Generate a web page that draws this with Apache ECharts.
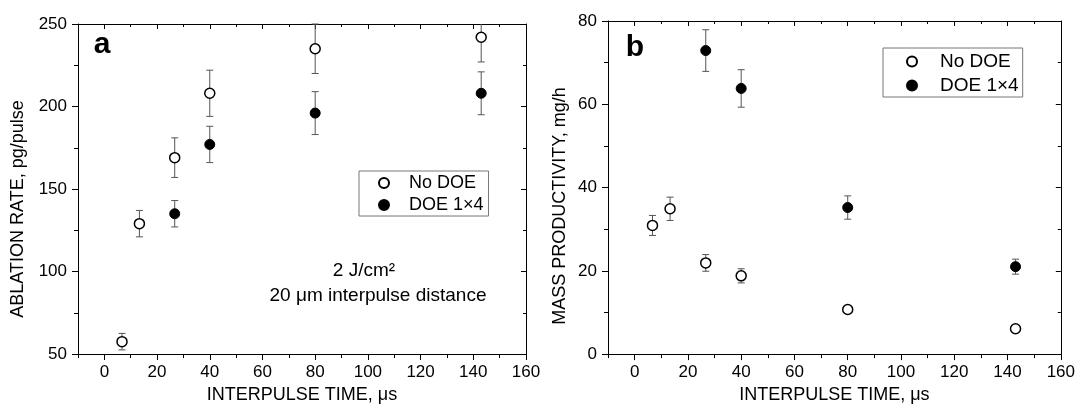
<!DOCTYPE html>
<html>
<head>
<meta charset="utf-8">
<script src="https://cdn.jsdelivr.net/npm/echarts@6/dist/echarts.min.js"></script>
<style>
html,body{margin:0;padding:0;background:#fff;}
#chart{width:1078px;height:409px;}
</style>
</head>
<body>
<div id="chart"></div>
<script>
// ---- data ----
const xNoDOE = [6.7, 13.3, 26.7, 40, 80, 143];
const xDOE = [26.7, 40, 80, 143];

const rateNoDOE = [57.5, 129, 169, 208, 235, 242];
const rateNoDOEErr = [5, 8, 12, 14, 15, 15];
const rateDOE = [135, 177, 196, 208];
const rateDOEErr = [8, 11, 13, 13];

const prodNoDOE = [30.9, 34.9, 21.9, 18.8, 10.7, 6.1];
const prodNoDOEErr = [2.4, 2.8, 2.0, 1.7, 0.9, 0.6];
const prodDOE = [72.9, 63.8, 35.2, 21.0];
const prodDOEErr = [5, 4.5, 2.8, 1.8];

const xMajorTicks = [0, 20, 40, 60, 80, 100, 120, 140, 160];
const xMinorTicks = [-10, 10, 30, 50, 70, 90, 110, 130, 150];
const seriesNames = ['No DOE', 'DOE 1×4'];

const FONT = '"Liberation Sans", Arial, Helvetica, sans-serif';
const INK = '#000';

function xAxes(gi) {
  const base = {type: 'value', gridIndex: gi, min: -10, max: 160, splitLine: {show: false}};
  return [
    Object.assign({}, base, {
      position: 'bottom',
      axisLine: {show: true, onZero: false, lineStyle: {color: INK, width: 1}},
      axisTick: {show: true, customValues: xMajorTicks, length: 6, lineStyle: {color: INK, width: 1}},
      axisLabel: {show: true, customValues: xMajorTicks, margin: 10, fontSize: 17, color: INK, fontFamily: FONT},
      name: 'INTERPULSE TIME, μs', nameLocation: 'middle', nameGap: 26,
      nameTextStyle: {fontSize: 18, color: INK, fontFamily: FONT}
    }),
    Object.assign({}, base, {
      position: 'bottom',
      axisLine: {show: false, onZero: false},
      axisTick: {show: true, customValues: xMinorTicks, length: 4, lineStyle: {color: INK, width: 1}},
      axisLabel: {show: false}
    }),
    Object.assign({}, base, {
      position: 'top',
      axisLine: {show: true, onZero: false, lineStyle: {color: INK, width: 1}},
      axisTick: {show: true, inside: true, customValues: xMajorTicks, length: 5, lineStyle: {color: INK, width: 1}},
      axisLabel: {show: false}
    }),
    Object.assign({}, base, {
      position: 'top',
      axisLine: {show: false, onZero: false},
      axisTick: {show: true, inside: true, customValues: xMinorTicks, length: 3, lineStyle: {color: INK, width: 1}},
      axisLabel: {show: false}
    })
  ];
}

function yAxes(gi, min, max, interval) {
  const base = {type: 'value', gridIndex: gi, min: min, max: max, interval: interval, splitLine: {show: false}};
  return [
    Object.assign({}, base, {
      position: 'left',
      axisLine: {show: true, onZero: false, lineStyle: {color: INK, width: 1}},
      axisTick: {show: true, length: 6, lineStyle: {color: INK, width: 1}},
      minorTick: {show: true, splitNumber: 2, length: 4, lineStyle: {color: INK, width: 1}},
      axisLabel: {show: true, margin: 11, fontSize: 17, color: INK, fontFamily: FONT}
    }),
    Object.assign({}, base, {
      position: 'right',
      axisLine: {show: true, onZero: false, lineStyle: {color: INK, width: 1}},
      axisTick: {show: true, inside: true, length: 5, lineStyle: {color: INK, width: 1}},
      minorTick: {show: true, splitNumber: 2, length: 3, lineStyle: {color: INK, width: 1}},
      axisLabel: {show: false}
    })
  ];
}

function errSeries(xs, ys, es, xi, yi) {
  return {
    type: 'custom', xAxisIndex: xi, yAxisIndex: yi, silent: true, z: 1,
    data: xs.map((x, i) => [x, ys[i] - es[i], ys[i] + es[i]]),
    encode: {x: 0, y: [1, 2]},
    renderItem: function (params, api) {
      const cs = params.coordSys;
      const lo = api.coord([api.value(0), api.value(1)]);
      const hi = api.coord([api.value(0), api.value(2)]);
      const top = Math.max(hi[1], cs.y);
      const bot = Math.min(lo[1], cs.y + cs.height);
      const st = {stroke: '#555', lineWidth: 1};
      const w = 3.5;
      const ch = [{type: 'line', shape: {x1: lo[0], y1: top, x2: lo[0], y2: bot}, style: st}];
      if (hi[1] >= cs.y - 0.5) ch.push({type: 'line', shape: {x1: hi[0] - w, y1: hi[1], x2: hi[0] + w, y2: hi[1]}, style: st});
      if (lo[1] <= cs.y + cs.height + 0.5) ch.push({type: 'line', shape: {x1: lo[0] - w, y1: lo[1], x2: lo[0] + w, y2: lo[1]}, style: st});
      return {type: 'group', children: ch};
    }
  };
}

const openStyle = {color: '#fff', borderColor: INK, borderWidth: 1.5, opacity: 1};
const fillStyle = {color: INK, borderColor: INK, borderWidth: 1, opacity: 1};

function scatter(name, xs, ys, xi, yi, style) {
  return {
    type: 'scatter', name: name, xAxisIndex: xi, yAxisIndex: yi, z: 3,
    symbol: 'circle', symbolSize: 10, itemStyle: style,
    data: xs.map((x, i) => [x, ys[i]])
  };
}

const legendCommon = {
  data: seriesNames, orient: 'vertical', icon: 'circle',
  itemHeight: 10, borderColor: '#777', borderWidth: 1, selectedMode: false
};

const option = {
  animation: false,
  backgroundColor: '#fff',
  grid: [
    {left: 78, top: 24, width: 448, height: 330},
    {left: 608, top: 21, width: 455, height: 335}
  ],
  xAxis: xAxes(0).concat(xAxes(1)),
  yAxis: yAxes(0, 50, 250, 50).concat(yAxes(1, 0, 80, 20)),
  legend: [
    Object.assign({}, legendCommon, {
      left: 359, top: 171, itemWidth: 40, itemGap: 4, padding: [3, 5, 2, 19],
      textStyle: {fontSize: 18, lineHeight: 18, color: INK, fontFamily: FONT}
    }),
    Object.assign({}, legendCommon, {
      left: 883, top: 48, itemWidth: 46, itemGap: 5, padding: [4, 4, 2, 23],
      textStyle: {fontSize: 19, lineHeight: 19, color: INK, fontFamily: FONT}
    })
  ],
  graphic: [
    {type: 'text', x: 18, y: 209, rotation: Math.PI / 2,
     style: {text: 'ABLATION RATE, pg/pulse', textAlign: 'center', textVerticalAlign: 'middle', fontSize: 18, fontFamily: FONT, fill: INK}},
    {type: 'text', x: 560, y: 206, rotation: Math.PI / 2,
     style: {text: 'MASS PRODUCTIVITY, mg/h', textAlign: 'center', textVerticalAlign: 'middle', fontSize: 18, fontFamily: FONT, fill: INK}},
    {type: 'text', x: 102, y: 60,
     style: {text: 'a', textAlign: 'center', textVerticalAlign: 'bottom', fontSize: 30, fontWeight: 'bold', fontFamily: FONT, fill: INK}},
    {type: 'text', x: 635, y: 63,
     style: {text: 'b', textAlign: 'center', textVerticalAlign: 'bottom', fontSize: 30, fontWeight: 'bold', fontFamily: FONT, fill: INK}},
    {type: 'text', x: 364, y: 271,
     style: {text: '2 J/cm²', textAlign: 'center', textVerticalAlign: 'middle', fontSize: 19, fontFamily: FONT, fill: INK}},
    {type: 'text', x: 378, y: 296,
     style: {text: '20 μm interpulse distance', textAlign: 'center', textVerticalAlign: 'middle', fontSize: 19, fontFamily: FONT, fill: INK}}
  ],
  series: [
    errSeries(xNoDOE, rateNoDOE, rateNoDOEErr, 0, 0),
    errSeries(xDOE, rateDOE, rateDOEErr, 0, 0),
    scatter(seriesNames[0], xNoDOE, rateNoDOE, 0, 0, openStyle),
    scatter(seriesNames[1], xDOE, rateDOE, 0, 0, fillStyle),
    errSeries(xNoDOE, prodNoDOE, prodNoDOEErr, 4, 2),
    errSeries(xDOE, prodDOE, prodDOEErr, 4, 2),
    scatter(seriesNames[0], xNoDOE, prodNoDOE, 4, 2, openStyle),
    scatter(seriesNames[1], xDOE, prodDOE, 4, 2, fillStyle)
  ]
};

const chart = echarts.init(document.getElementById('chart'), null, {renderer: 'canvas'});
chart.setOption(option);
</script>
</body>
</html>
